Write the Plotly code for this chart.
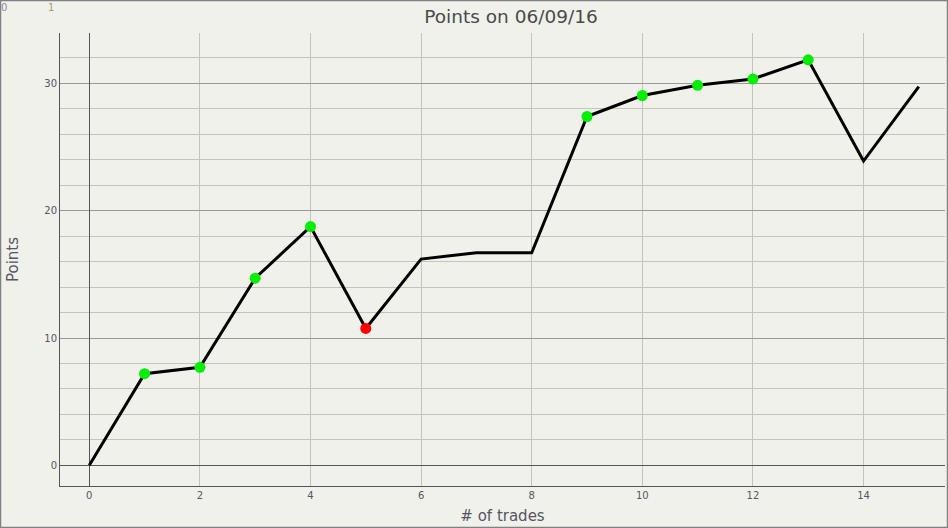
import plotly.graph_objects as go

trades = list(range(16))
points = [0, 7.2, 7.7, 14.7, 18.75, 10.75, 16.2, 16.7, 16.7, 27.4, 29.05, 29.85, 30.35, 31.85, 23.9, 29.75]
marker_colors = [None, "#00ee00", "#00ee00", "#00ee00", "#00ee00", "#ff0000", None, None, None,
                 "#00ee00", "#00ee00", "#00ee00", "#00ee00", "#00ee00", None, None]

W, H = 948, 528
L, R, T, B = 60, 3, 33, 42
pw, ph = W - L - R, H - T - B
X0, XS = 89.3, 55.3     # pixel of x=0, pixels per x unit
Y0, YS = 465.3, 12.73   # pixel of y=0, pixels per y unit

mk_x = [x for x, c in zip(trades, marker_colors) if c]
mk_y = [y for y, c in zip(points, marker_colors) if c]
mk_c = [c for c in marker_colors if c]

bg = "#f1f1eb"
fig = go.Figure()
fig.add_trace(go.Scatter(x=trades, y=points, mode="lines",
                         line=dict(color="black", width=3), hoverinfo="skip"))
fig.add_trace(go.Scatter(x=mk_x, y=mk_y, mode="markers",
                         marker=dict(color=mk_c, size=11, line=dict(width=0))))

font = "Tahoma, DejaVu Sans, Verdana, sans-serif"
fig.update_layout(
    width=W, height=H, showlegend=False,
    paper_bgcolor=bg, plot_bgcolor=bg,
    margin=dict(l=L, r=R, t=T, b=B),
    title=dict(text="Points on 06/09/16", x=(511 - L) / pw, xref="paper", xanchor="center",
               y=1 - 17 / H, yanchor="middle",
               font=dict(family=font, size=18.5, color="#4a4a4a")),
    xaxis=dict(range=[(L - X0) / XS, (W - R - X0) / XS], dtick=2, tick0=0,
               showgrid=True, gridcolor="#c4c4bc", gridwidth=1,
               zeroline=True, zerolinecolor="#555555", zerolinewidth=1,
               showline=True, linecolor="#555555", linewidth=1, mirror=False,
               ticks="", tickfont=dict(family=font, size=10, color="#555566"),
               title=dict(text="# of trades", font=dict(family=font, size=15, color="#555566"),
                          standoff=10)),
    yaxis=dict(range=[(Y0 - (H - B)) / YS, (Y0 - T) / YS], dtick=10, tick0=0,
               showgrid=True, gridcolor="#9a9a94", gridwidth=1,
               minor=dict(dtick=2, showgrid=True, gridcolor="#c4c4bc", gridwidth=1),
               zeroline=True, zerolinecolor="#555555", zerolinewidth=1,
               showline=True, linecolor="#555555", linewidth=1,
               ticks="", tickfont=dict(family=font, size=10, color="#555566"),
               title=dict(text="Points", font=dict(family=font, size=15, color="#555566"),
                          standoff=22)),
    annotations=[
        dict(text="0", xref="paper", yref="paper", x=(4 - L) / pw, y=(H - B - 8) / ph,
             showarrow=False, xanchor="center", yanchor="middle",
             font=dict(family=font, size=10, color="#8888aa")),
        dict(text="1", xref="paper", yref="paper", x=(51 - L) / pw, y=(H - B - 8) / ph,
             showarrow=False, xanchor="center", yanchor="middle",
             font=dict(family=font, size=10, color="#aa9977")),
    ],
    shapes=[
        dict(type="rect", xref="paper", yref="paper",
             x0=(0.5 - L) / pw, x1=(W - 0.5 - L) / pw,
             y0=(H - B - (H - 0.5)) / ph, y1=(H - B - 0.5) / ph,
             line=dict(color="#808080", width=1.5), fillcolor="rgba(0,0,0,0)", layer="above"),
    ],
)
fig.write_html("out.html", config={"displayModeBar": False},
               post_script="document.body.style.margin='0';document.body.style.overflow='hidden';")
